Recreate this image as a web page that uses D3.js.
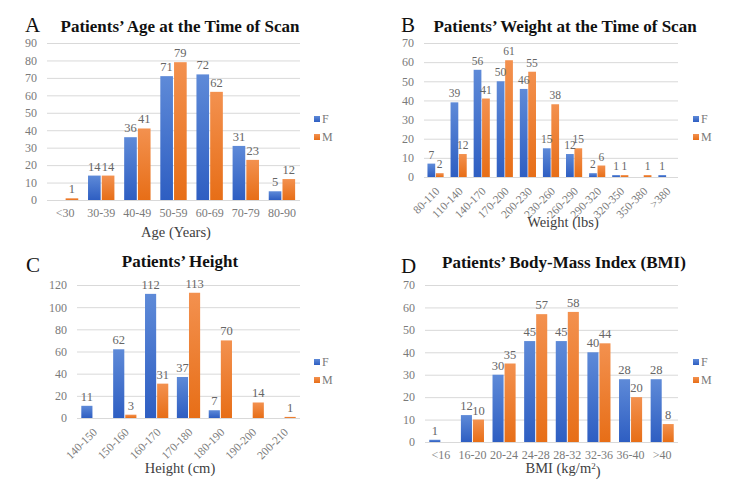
<!DOCTYPE html>
<html>
<head>
<meta charset="utf-8">
<script src="https://cdn.jsdelivr.net/npm/d3@7"></script>
<style>
  body { margin: 0; background: #fff; }
  svg { display: block; }
  text { font-family: "Liberation Serif", "DejaVu Serif", serif; }
</style>
</head>
<body>
<div id="chart"></div>
<script>
const series = ["F", "M"];

const ageCats = ["<30", "30-39", "40-49", "50-59", "60-69", "70-79", "80-90"];
const ageF = [0, 14, 36, 71, 72, 31, 5];
const ageM = [1, 14, 41, 79, 62, 23, 12];

const weightCats = ["80-110", "110-140", "140-170", "170-200", "200-230", "230-260", "260-290", "290-320", "320-350", "350-380", ">380"];
const weightF = [7, 39, 56, 50, 46, 15, 12, 2, 1, 0, 1];
const weightM = [2, 12, 41, 61, 55, 38, 15, 6, 1, 1, 0];

const heightCats = ["140-150", "150-160", "160-170", "170-180", "180-190", "190-200", "200-210"];
const heightF = [11, 62, 112, 37, 7, 0, 0];
const heightM = [0, 3, 31, 113, 70, 14, 1];

const bmiCats = ["<16", "16-20", "20-24", "24-28", "28-32", "32-36", "36-40", ">40"];
const bmiF = [1, 12, 30, 45, 45, 40, 28, 28];
const bmiM = [0, 10, 35, 57, 58, 44, 20, 8];

const tickColor = "#7a7a7a";
const labelColor = "#666666";
const gridColor = "#d9d9d9";

let svg = d3.select("#chart")
  .append("svg")
  .attr("width", 750)
  .attr("height", 482);

/** GRADIENTS */
let defs = svg.append("defs");
const grads = {F: ["#5e8ad8", "#2e5ec2"], M: ["#f3914f", "#e76e17"]};
Object.keys(grads).forEach((k)=>{
  let g = defs.append("linearGradient")
    .attr("id", "grad-" + k)
    .attr("x1", "0%").attr("y1", "0%")
    .attr("x2", "0%").attr("y2", "100%");
  g.append("stop").attr("offset", "0%").attr("stop-color", grads[k][0]);
  g.append("stop").attr("offset", "100%").attr("stop-color", grads[k][1]);
});

function drawPanel(p){
  let data = p.cats.map((c, i)=>({cat: c, F: p.f[i], M: p.m[i]}));

  let x0 = d3.scaleBand()
    .domain(p.cats)
    .range([p.left, p.right])
    .paddingInner(p.gap)
    .paddingOuter(p.gap / 2);
  let x1 = d3.scaleBand()
    .domain(series)
    .range([0, x0.bandwidth()])
    .paddingInner(0.08);
  let y = d3.scaleLinear()
    .domain([0, p.ymax])
    .range([p.bottom, p.top]);

  let g = svg.append("g");

  /** GRID + Y AXIS */
  let yAxis = g.append("g")
    .attr("transform", `translate(${p.left},0)`)
    .call(d3.axisLeft(y)
      .tickValues(d3.range(0, p.ymax + 1, p.step))
      .tickSize(-(p.right - p.left))
      .tickPadding(10));
  yAxis.select(".domain").remove();
  yAxis.selectAll("line").attr("stroke", gridColor);
  yAxis.selectAll("text")
    .attr("fill", tickColor)
    .attr("font-size", 12)
    .attr("font-family", "Liberation Serif, serif");

  /** X AXIS */
  let xAxis = g.append("g")
    .attr("transform", `translate(0,${p.bottom})`)
    .call(d3.axisBottom(x0).tickSize(0).tickPadding(p.rotate ? 0 : 8));
  xAxis.select(".domain").remove();
  xAxis.selectAll("text")
    .attr("fill", tickColor)
    .attr("font-size", 12)
    .attr("font-family", "Liberation Serif, serif");
  if(p.rotate){
    xAxis.selectAll("text")
      .attr("y", 0)
      .attr("dy", "0.35em")
      .attr("text-anchor", "end")
      .attr("font-size", 11.5)
      .attr("transform", `translate(2,12) rotate(-45)`);
  }

  /** BARS */
  let groups = g.append("g")
    .selectAll("g")
    .data(data)
    .enter()
    .append("g")
    .attr("transform", (d)=>`translate(${x0(d.cat)},0)`);

  groups.selectAll("rect")
    .data((d)=>series.map((s)=>({s: s, v: d[s]})))
    .enter()
    .append("rect")
    .attr("x", (d)=>x1(d.s))
    .attr("y", (d)=>y(d.v))
    .attr("width", x1.bandwidth())
    .attr("height", (d)=>p.bottom - y(d.v))
    .style("fill", (d)=>`url(#grad-${d.s})`);

  groups.selectAll("text")
    .data((d)=>series.map((s)=>({s: s, v: d[s]})).filter((d)=>d.v > 0))
    .enter()
    .append("text")
    .text((d)=>d.v)
    .attr("x", (d)=>x1(d.s) + x1.bandwidth() / 2)
    .attr("y", (d)=>y(d.v) - 5)
    .attr("text-anchor", "middle")
    .attr("fill", labelColor)
    .attr("font-size", p.labelSize || 12.5);

  /** TITLES */
  g.append("text")
    .text(p.letter)
    .attr("x", p.letterX)
    .attr("y", p.letterY)
    .attr("font-size", 21)
    .attr("fill", "#111");
  g.append("text")
    .text(p.title)
    .attr("x", p.titleX)
    .attr("y", p.titleY)
    .attr("text-anchor", "middle")
    .attr("font-size", 17)
    .attr("font-weight", "bold")
    .attr("fill", "#111");
  let xt = g.append("text")
    .attr("x", p.xTitleX)
    .attr("y", p.xTitleY)
    .attr("text-anchor", "middle")
    .attr("font-size", 14.5)
    .attr("fill", "#404040")
    .text(p.xTitle);
  if(p.sup){
    xt.append("tspan").text(p.sup).attr("font-size", 9).attr("dy", "-0.5em");
    xt.append("tspan").text(p.xTitleEnd).attr("dy", "0.5em");
  }

  /** LEGEND */
  let legend = g.append("g")
    .attr("transform", `translate(${p.legendX},${p.legendY})`);
  series.forEach((s, i)=>{
    legend.append("rect")
      .attr("x", 0)
      .attr("y", i * 18 - 3)
      .attr("width", 6)
      .attr("height", 6)
      .style("fill", `url(#grad-${s})`);
    legend.append("text")
      .text(s)
      .attr("x", 8)
      .attr("y", i * 18 + 4)
      .attr("font-size", 12)
      .attr("fill", tickColor);
  });
}

drawPanel({cats: ageCats, f: ageF, m: ageM, ymax: 90, step: 10,
  left: 47, right: 300, top: 43, bottom: 200, gap: 0.27, rotate: false,
  letter: "A", letterX: 25, letterY: 31.5, title: "Patients\u2019 Age at the Time of Scan", titleX: 180, titleY: 32,
  xTitle: "Age (Years)", xTitleX: 176, xTitleY: 237, legendX: 314, legendY: 119});

drawPanel({cats: weightCats, f: weightF, m: weightM, ymax: 70, step: 10,
  left: 424, right: 678, top: 43, bottom: 177, gap: 0.3, rotate: true, labelSize: 11.5,
  letter: "B", letterX: 401, letterY: 31.5, title: "Patients\u2019 Weight at the Time of Scan", titleX: 565, titleY: 32,
  xTitle: "Weight (lbs)", xTitleX: 563, xTitleY: 227, legendX: 693, legendY: 119});

drawPanel({cats: heightCats, f: heightF, m: heightM, ymax: 120, step: 20,
  left: 77, right: 300, top: 285, bottom: 418, gap: 0.27, rotate: true,
  letter: "C", letterX: 26, letterY: 272, title: "Patients\u2019 Height", titleX: 180, titleY: 267,
  xTitle: "Height (cm)", xTitleX: 180, xTitleY: 473, legendX: 314, legendY: 362});

drawPanel({cats: bmiCats, f: bmiF, m: bmiM, ymax: 70, step: 10,
  left: 425, right: 678, top: 285, bottom: 442, gap: 0.27, rotate: false,
  letter: "D", letterX: 401, letterY: 273, title: "Patients\u2019 Body-Mass Index (BMI)", titleX: 564, titleY: 268,
  xTitle: "BMI (kg/m", sup: "2", xTitleEnd: ")", xTitleX: 563, xTitleY: 473, legendX: 693, legendY: 362});
</script>
</body>
</html>
